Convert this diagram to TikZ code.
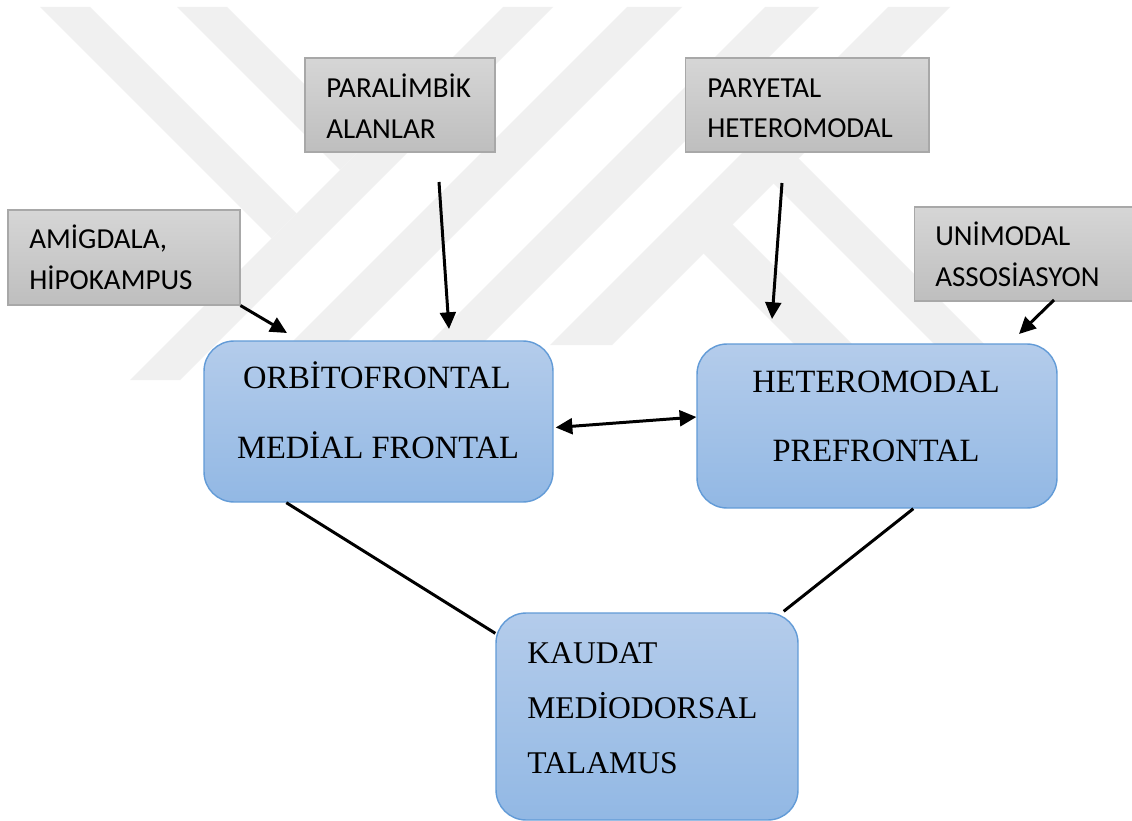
\documentclass[tikz,border=0pt]{standalone}
\usepackage{fontspec}
\setmainfont{Liberation Serif}
\newfontfamily\calibri{Carlito}
\usetikzlibrary{arrows.meta,calc}
\definecolor{wm}{RGB}{240,240,240}
\definecolor{gtop}{RGB}{214,214,214}
\definecolor{gbot}{RGB}{190,190,190}
\definecolor{gbord}{RGB}{168,168,168}
\definecolor{btop}{RGB}{180,204,235}
\definecolor{bbot}{RGB}{146,184,228}
\definecolor{bbord}{RGB}{98,155,215}
\tikzset{
  graybox/.style={rectangle, draw=gbord, line width=0.6pt, top color=gtop, bottom color=gbot, inner sep=0pt},
  bluebox/.style={rectangle, draw=bbord, line width=0.8pt, top color=btop, bottom color=bbot, rounded corners=0.6cm, inner sep=0pt},
  gtext/.style={font=\calibri\fontsize{16.5}{19}\selectfont, inner sep=0pt, anchor=base west},
  btext/.style={font=\fontsize{18.5}{21}\selectfont, inner sep=0pt, anchor=base},
  ktext/.style={font=\fontsize{18}{21}\selectfont, inner sep=0pt, anchor=base west},
  arr/.style={-{Triangle[length=9.5pt,width=9pt]}, line width=1.7pt},
  dblarr/.style={{Triangle[length=9.5pt,width=9pt]}-{Triangle[length=9.5pt,width=9pt]}, line width=1.7pt},
  conn/.style={line width=1.7pt},
  wmark/.style={fill=wm, draw=none}
}
\begin{document}
\begin{tikzpicture}[x=0.02cm,y=-0.02cm]
\useasboundingbox (0,0) rectangle (1132,821);
\clip (0,0) rectangle (1132,821);
\fill[white] (0,0) rectangle (1132,821);
% watermark stripes
\fill[wmark] (40,7) -- (90,7) -- (296.5,213.5) -- (271.5,238.5) -- cycle;
\fill[wmark] (177,7) -- (227,7) -- (365,145) -- (340,170) -- cycle;
\fill[wmark] (503,7) -- (553,7) -- (180,380) -- (130,380) -- cycle;
\fill[wmark] (627,7) -- (682,7) -- (344,345) -- (289,345) -- cycle;
\fill[wmark] (765,7) -- (819,7) -- (481,345) -- (427,345) -- cycle;
\fill[wmark] (888,7) -- (950,7) -- (612,345) -- (550,345) -- cycle;
\fill[wmark] (790,150) -- (985,345) -- (935,345) -- (765,175) -- cycle;
\fill[wmark] (724,216) -- (853,345) -- (795,345) -- (695,245) -- cycle;

% gray boxes
\node[graybox, minimum width=4.64cm, minimum height=1.9cm] (amig) at (124,257.5) {};
\node[graybox, minimum width=3.8cm, minimum height=1.88cm] (paral) at (400,105) {};
\node[graybox, minimum width=4.88cm, minimum height=1.88cm] (paryet) at (807,105) {};
\node[graybox, minimum width=4.52cm, minimum height=1.88cm] (unimod) at (1027,254) {};
\node[gtext] (tamig1) at (29,248) {AMİGDALA,};
\node[gtext] (tamig2) at (29,289) {HİPOKAMPUS};
\node[gtext] (tparal1) at (326,97) {PARALİMBİK};
\node[gtext] (tparal2) at (326,138) {ALANLAR};
\node[gtext] (tpar1) at (707,97) {PARYETAL};
\node[gtext] (tpar2) at (707,137) {HETEROMODAL};
\node[gtext] (tuni1) at (935,245) {UNİMODAL};
\node[gtext] (tuni2) at (935,286) {ASSOSİASYON};

% blue boxes
\node[bluebox, minimum width=6.98cm, minimum height=3.22cm] (orbi) at (378.5,421.5) {};
\node[bluebox, minimum width=7.2cm, minimum height=3.28cm] (hetero) at (877,426) {};
\node[bluebox, minimum width=6.04cm, minimum height=4.14cm] (kaudat) at (647,716.5) {};
\node[btext] (torbi1) at (377,388) {ORBİTOFRONTAL};
\node[btext] (torbi2) at (378,458) {MEDİAL FRONTAL};
\node[btext] (thet1) at (876,392) {HETEROMODAL};
\node[btext] (thet2) at (876,461) {PREFRONTAL};
\node[ktext] (tkau1) at (527,663) {KAUDAT};
\node[ktext] (tkau2) at (527,718) {MEDİODORSAL};
\node[ktext] (tkau3) at (527,773) {TALAMUS};

% arrow end points
\coordinate (a1e) at (287,333);
\coordinate (a2s) at (439,182);
\coordinate (a2e) at (449,329);
\coordinate (a3s) at (782,183);
\coordinate (a3e) at (772,319);
\coordinate (a4s) at (1054,300);
\coordinate (a4e) at (1019,334);

\draw[arr] (amig.south east) -- (a1e);
\draw[arr] (a2s) -- (a2e);
\draw[arr] (a3s) -- (a3e);
\draw[arr] (a4s) -- (a4e);
\draw[dblarr] ($(orbi.east)+(2,6)$) -- ($(hetero.west)+(0,-9)$);
\draw[conn] ($(orbi.south west)+(83,0)$) -- ($(kaudat.north west)+(0,21)$);
\draw[conn] ($(hetero.south west)+(217,0)$) -- ($(kaudat.north east)+(-15,-1)$);
\end{tikzpicture}
\end{document}
